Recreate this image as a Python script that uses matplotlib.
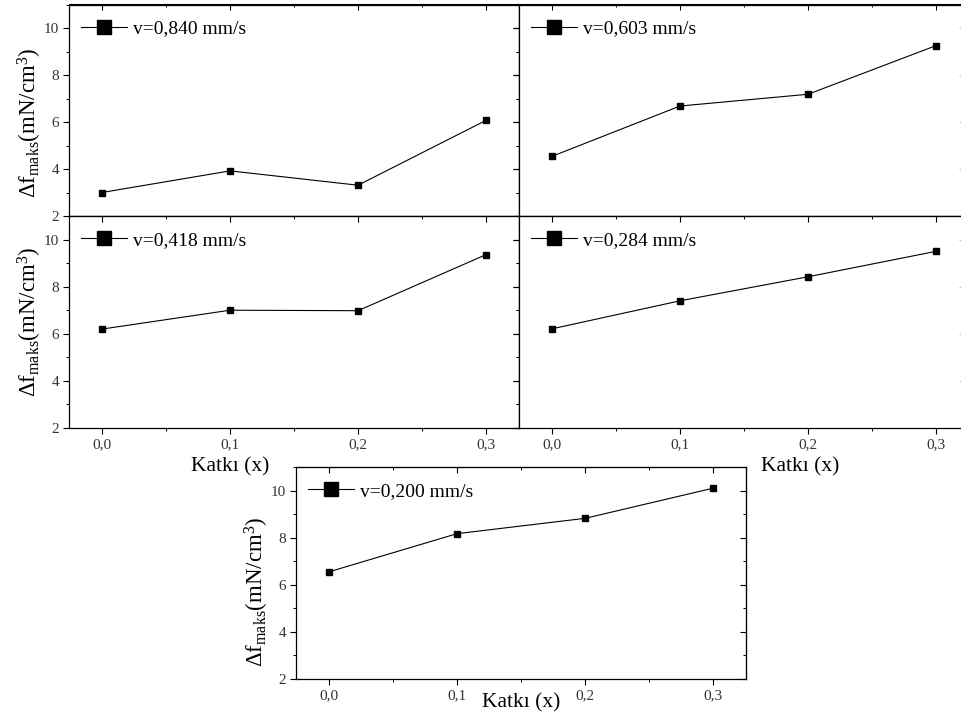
import matplotlib
matplotlib.use("Agg")
import matplotlib.pyplot as plt
from matplotlib.ticker import MultipleLocator, FuncFormatter, NullFormatter

plt.rcParams['font.family'] = ['Liberation Serif', 'DejaVu Serif']
plt.rcParams['mathtext.fontset'] = 'custom'
plt.rcParams['mathtext.rm'] = 'Liberation Serif'
plt.rcParams['mathtext.it'] = 'Liberation Serif:italic'

# Additive fraction on the x axis
katki = [0.0, 0.1, 0.2, 0.3]

# Maximum force change (mN/cm^3) for each pulling speed
df_0840 = [3.0, 3.92, 3.31, 6.07]
df_0603 = [4.54, 6.68, 7.18, 9.25]
df_0418 = [6.2, 7.0, 6.98, 9.36]
df_0284 = [6.21, 7.4, 8.42, 9.5]
df_0200 = [6.55, 8.17, 8.82, 10.1]

speed_labels = ["v=0,840 mm/s", "v=0,603 mm/s", "v=0,418 mm/s",
                "v=0,284 mm/s", "v=0,200 mm/s"]
series = [df_0840, df_0603, df_0418, df_0284, df_0200]

xticks = [0.0, 0.1, 0.2, 0.3]
yticks = [2, 4, 6, 8, 10]

W, H = 962, 722
PX_PER_UNIT_X = 1280.0   # pixels per unit of the additive fraction
XMIN = -0.0258

fig = plt.figure(figsize=(W / 100, H / 100), dpi=100)


def px_axes(left, top, right, bottom):
    return fig.add_axes([left / W, 1 - bottom / H, (right - left) / W, (bottom - top) / H])


# decimal comma for the x tick labels
comma_fmt = FuncFormatter(lambda v, pos: f"{v:.1f}".replace('.', ','))

# panel boxes in pixels: left, top, right, bottom
boxes = [
    (69, 4.5, 519, 216),
    (519, 4.5, 965, 216),
    (69, 216, 519, 428),
    (519, 216, 965, 428),
    (296, 467, 746, 679),
]
show_xlabels = [False, False, True, True, True]
show_ylabels = [True, False, True, False, True]
xlabel_pos = [None, None, (0.358, -0.184), (0.631, -0.184), (0.5, -0.113)]
ylabel_pos = [0.44, None, 0.50, None, 0.41]

ylabel_text = r"Δf$_{\mathrm{maks}}$(mN/cm$^{3}$)"

for i, (box, ys, lab) in enumerate(zip(boxes, series, speed_labels)):
    ax = px_axes(*box)
    line, = ax.plot(katki, ys, color='black', lw=0.8, marker='s',
                    markersize=4.6, markerfacecolor='black',
                    markeredgecolor='black')
    ax.set_xlim(XMIN, XMIN + (box[2] - box[0]) / PX_PER_UNIT_X)
    ax.set_ylim(2, 11)
    ax.set_xticks(xticks)
    ax.set_yticks(yticks)
    ax.xaxis.set_minor_locator(MultipleLocator(0.05))
    ax.yaxis.set_minor_locator(MultipleLocator(1))
    ax.xaxis.set_major_formatter(comma_fmt)
    ax.tick_params(which='major', direction='out', length=4.5, width=0.8,
                   labelsize=11, labelcolor='#333333', pad=2.5)
    ax.tick_params(which='minor', direction='out', length=2.5, width=0.7)
    if not show_xlabels[i]:
        ax.xaxis.set_major_formatter(NullFormatter())
    if not show_ylabels[i]:
        ax.yaxis.set_major_formatter(NullFormatter())
    for sp in ax.spines.values():
        sp.set_linewidth(0.9)

    # mirrored inward ticks on the top and right edges
    top = ax.secondary_xaxis('top')
    top.set_xticks(xticks)
    top.xaxis.set_minor_locator(MultipleLocator(0.05))
    top.tick_params(which='major', direction='in', length=4.5, width=0.8, labeltop=False)
    top.tick_params(which='minor', direction='in', length=2.5, width=0.7)
    right = ax.secondary_yaxis('right')
    right.set_yticks(yticks)
    right.yaxis.set_minor_locator(MultipleLocator(1))
    tick_col = 'black' if box[2] < W else '#bbbbbb'
    right.tick_params(which='major', direction='in', length=4.5, width=0.8,
                      labelright=False, color=tick_col)
    right.tick_params(which='minor', direction='in', length=2.5, width=0.7,
                      color=tick_col)
    if box[2] >= W:
        # the right edge of these panels falls just past the page border
        ax.spines['right'].set_visible(False)
        right.spines['right'].set_visible(False)

    if xlabel_pos[i] is not None:
        ax.set_xlabel("Katkı (x)", fontsize=15.5)
        ax.xaxis.set_label_coords(*xlabel_pos[i])
        ax.xaxis.label.set_va('center')
    if ylabel_pos[i] is not None:
        ax.set_ylabel(ylabel_text, fontsize=16.5)
        ax.yaxis.set_label_coords(-0.087, ylabel_pos[i])
        ax.yaxis.label.set_va('center')

    ax.legend([line], [lab], loc='center left', bbox_to_anchor=(0.026, 0.886),
              frameon=False, fontsize=14, markerscale=2.2, handlelength=2.4,
              handletextpad=0.3, borderpad=0, borderaxespad=0)

fig.savefig("out.png", dpi=100)
